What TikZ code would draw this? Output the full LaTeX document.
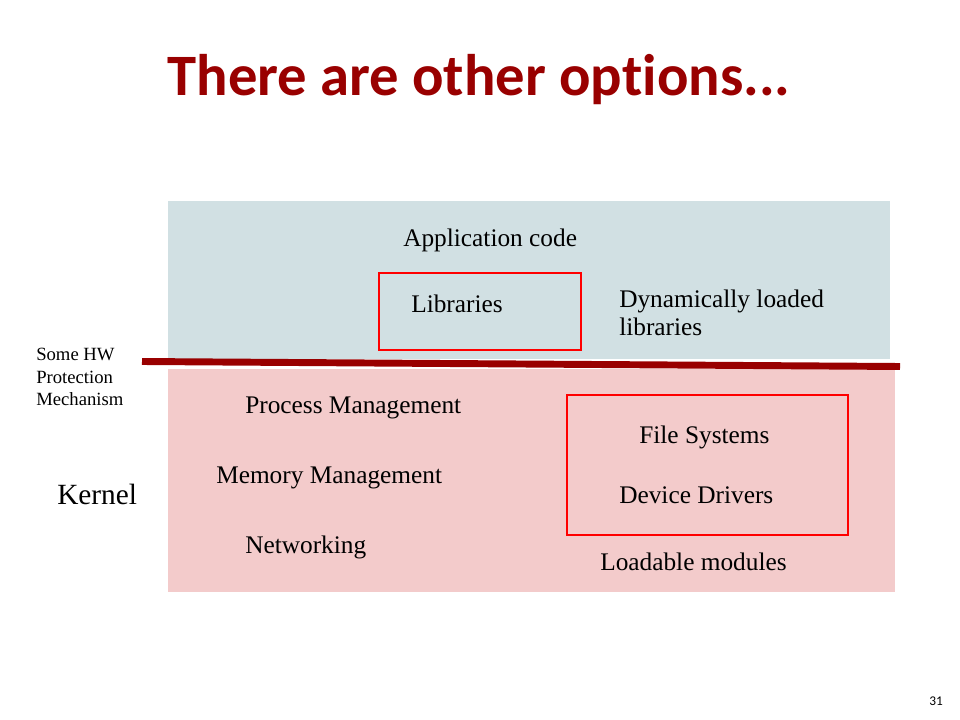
\documentclass[tikz,border=0pt]{standalone}
\usepackage{fontspec}
\setmainfont{Liberation Serif}
\newfontfamily\titlefont[Ligatures=NoCommon]{Carlito}
\definecolor{titlered}{RGB}{153,0,0}
\definecolor{userblue}{RGB}{209,224,227}
\definecolor{kernelpink}{RGB}{243,203,203}
\definecolor{boxred}{RGB}{255,0,0}
\begin{document}
\begin{tikzpicture}[x=0.75pt,y=-0.75pt,
  lbl/.style={anchor=west,inner sep=0pt,font=\fontsize{19}{22}\selectfont},
  small/.style={anchor=west,inner sep=0pt,align=left,font=\fontsize{14}{17}\selectfont},
  redbox/.style={draw=boxred,line width=1.6pt}]
\useasboundingbox (0,0) rectangle (960,720);
% title
\node[inner sep=0pt,text=titlered,font=\titlefont\bfseries\fontsize{44}{50}\selectfont] (title) at (479,80) {There are other options...};
% user space and kernel space
\fill[userblue] (168,201) rectangle (890,359);
\fill[kernelpink] (168,369) rectangle (895,592);
% protection boundary
\coordinate (bl) at (142,361.5);
\coordinate (br) at (900,366.5);
\draw[titlered,line width=5.2pt] (bl) -- (br);
% highlighted boxes
\draw[redbox] (379,273) rectangle (581,350);
\draw[redbox] (567,395) rectangle (848,535);
% user space labels
\node[lbl] (app) at (403,240) {Application code};
\node[lbl] (lib) at (411,304) {Libraries};
\node[lbl,align=left,font=\fontsize{19}{21}\selectfont] (dyn) at (619,313) {Dynamically loaded\\libraries};
% side labels
\node[small] (hw) at (36,377) {Some HW\\Protection\\Mechanism};
\node[lbl,font=\fontsize{22}{26}\selectfont] (kernel) at (57,494) {Kernel};
% kernel labels
\node[lbl] (pm) at (245,408) {Process Management};
\node[lbl] (mm) at (216,478) {Memory Management};
\node[lbl] (net) at (245,547) {Networking};
\node[lbl] (fs) at (639,437) {File Systems};
\node[lbl] (dd) at (619,495) {Device Drivers};
\node[lbl] (lm) at (600,562) {Loadable modules};
% page number
\node[inner sep=0pt,font=\titlefont\fontsize{10}{12}\selectfont] (page) at (936,701) {31};
\end{tikzpicture}
\end{document}
